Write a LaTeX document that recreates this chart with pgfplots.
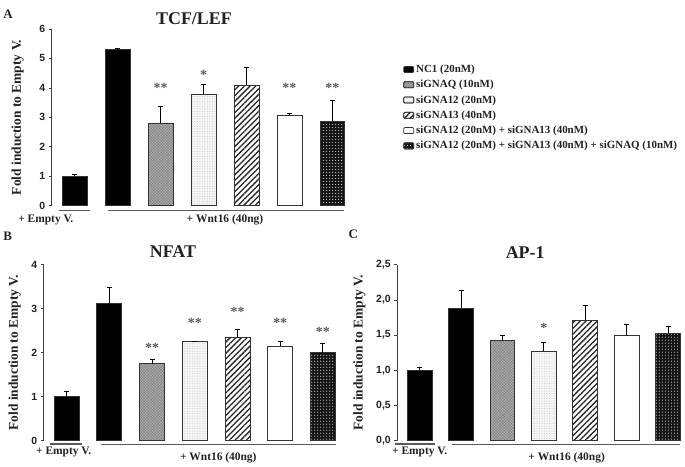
\documentclass[border=0pt]{standalone}
\usepackage{fontspec}
\setmainfont{Liberation Serif}
\setsansfont{Liberation Sans}
\usepackage{pgfplots}
\pgfplotsset{compat=1.18}
\usetikzlibrary{patterns,patterns.meta}
\definecolor{txt}{HTML}{222222}
\tikzset{
  grp/.style={line width=1.2bp, gray!70!black},
  glab/.style={font=\bfseries\fontsize{11.5}{13}\selectfont, text=txt},
}
\pgfplotsset{
  common/.style={scale only axis, axis x line=none, axis y line*=left,
    axis line style={-, black!75, line width=0.8bp},
    ytick style={black!75, line width=0.8bp}, tick align=outside, major tick length=3bp,
    ymin=0, clip=false, xtick=\empty,
    tick label style={font=\sffamily\bfseries\fontsize{10.5}{12}\selectfont, text=txt},
    /pgf/number format/assume math mode=true,
    ylabel={Fold induction to Empty V.},
    ylabel style={font=\bfseries\fontsize{13.5}{15}\selectfont, text=txt, anchor=center}},
  barleg/.style={legend image code/.code={\draw[##1, rounded corners=1bp] (0bp,-3bp) rectangle (10bp,3bp);}},
  bb/.style={ybar, bar width=#1, bar shift=0pt, draw=black!80, line width=0.8bp, barleg,
    error bars/y dir=plus, error bars/y explicit,
    error bars/error bar style={line width=1bp, black},
    error bars/error mark options={rotate=90, mark size=2.5bp, line width=1bp, black}},
  f0/.style={fill=black},
  fQ/.style={fill=gray!62, postaction={pattern={Hatch[distance=2bp, line width=0.4bp, angle=45]}, pattern color=black!50}},
  f12/.style={fill=gray!8, postaction={pattern={Dots[distance=2.5bp, radius=0.45bp]}, pattern color=gray!50}},
  f13/.style={fill=white, postaction={pattern={Lines[angle=45, distance=4bp, line width=1.3bp]}, pattern color=black!85}},
  fC/.style={fill=white},
  fT/.style={fill=black!92, postaction={pattern={Dots[distance=3bp, radius=0.6bp]}, pattern color=gray!45}},
  stars/.style={draw=none, mark=none, forget plot, nodes near coords, point meta=explicit symbolic,
    nodes near coords style={font=\bfseries\fontsize{14}{15}\selectfont, text=gray!70!black, anchor=center}},
}
\begin{document}
\begin{tikzpicture}[x=1bp, y=1bp]
\path (0,0) rectangle (685,462);
% Panel letters and titles
\node[font=\bfseries\fontsize{13}{15}\selectfont, text=txt] at (7.5,448) {A};
\node[font=\bfseries\fontsize{13}{15}\selectfont, text=txt] at (7,225) {B};
\node[font=\bfseries\fontsize{13}{15}\selectfont, text=txt] at (353,227) {C};
\node[font=\bfseries\fontsize{18}{20}\selectfont, text=txt] at (193.5,443) {TCF/LEF};
\node[font=\bfseries\fontsize{18}{20}\selectfont, text=txt] at (172.5,210.5) {NFAT};
\node[font=\bfseries\fontsize{18}{20}\selectfont, text=txt] at (525,209) {AP-1};

% Panel A
\begin{axis}[common, at={(51bp,256bp)}, anchor=south west, width=300bp, height=177bp,
  xmin=-0.535, xmax=6.44, ymax=6, ytick={0,1,...,6},
  ylabel style={at={(axis description cs:-0.113,0.5)}},
  legend style={at={(axis description cs:1.163,0.82)}, anchor=north west, draw=none, fill=none,
    font=\bfseries\fontsize{11}{12}\selectfont, text=txt, row sep=2.2bp, cells={anchor=west}},
  legend cell align=left]
\addplot[bb=0.58, f0, forget plot] coordinates {(0,1.00) +- (0,0.05)};
\addplot[bb=0.58, f0] coordinates {(1,5.31) +- (0,0.02)};
\addplot[bb=0.58, fQ] coordinates {(2,2.80) +- (0,0.58)};
\addplot[bb=0.58, f12] coordinates {(3,3.79) +- (0,0.31)};
\addplot[bb=0.58, f13] coordinates {(4,4.09) +- (0,0.60)};
\addplot[bb=0.58, fC] coordinates {(5,3.07) +- (0,0.06)};
\addplot[bb=0.58, fT] coordinates {(6,2.87) +- (0,0.69)};
\addplot[stars] coordinates {(2,4.0)[**] (3,4.45)[*] (5,4.0)[**] (6,4.0)[**]};
\legend{NC1 (20nM), siGNAQ (10nM), siGNA12 (20nM), siGNA13 (40nM), siGNA12 (20nM) + siGNA13 (40nM), siGNA12 (20nM) + siGNA13 (40nM) + siGNAQ (10nM)}
\draw[grp] ([yshift=-5bp]axis cs:-0.37,0) -- ([yshift=-5bp]axis cs:0.37,0);
\draw[grp] ([yshift=-5bp]axis cs:0.77,0) -- ([yshift=-5bp]axis cs:6.28,0);
\node[glab] at ([yshift=-14bp]axis cs:-0.67,0) {+ Empty V.};
\node[glab] at ([yshift=-14bp]axis cs:3.5,0) {+ Wnt16 (40ng)};
\end{axis}

% Panel B
\begin{axis}[common, at={(43bp,21bp)}, anchor=south west, width=298bp, height=176bp,
  xmin=-0.54, xmax=6.43, ymax=4, ytick={0,1,...,4},
  ylabel style={at={(axis description cs:-0.097,0.5)}}]
\addplot[bb=0.585, f0] coordinates {(0,1.00) +- (0,0.11)};
\addplot[bb=0.585, f0] coordinates {(1,3.11) +- (0,0.38)};
\addplot[bb=0.585, fQ] coordinates {(2,1.75) +- (0,0.10)};
\addplot[bb=0.585, f12] coordinates {(3,2.25) +- (0,0.01)};
\addplot[bb=0.585, f13] coordinates {(4,2.34) +- (0,0.19)};
\addplot[bb=0.585, fC] coordinates {(5,2.15) +- (0,0.11)};
\addplot[bb=0.585, fT] coordinates {(6,2.00) +- (0,0.21)};
\addplot[stars] coordinates {(2,2.1)[**] (3,2.68)[**] (4,2.92)[**] (5,2.68)[**] (6,2.47)[**]};
\draw[grp] ([yshift=-3.5bp]axis cs:-0.4,0) -- ([yshift=-3.5bp]axis cs:0.37,0);
\draw[grp] ([yshift=-4bp]axis cs:0.8,0) -- ([yshift=-4bp]axis cs:6.3,0);
\node[glab] at ([yshift=-11bp]axis cs:-0.07,0) {+ Empty V.};
\node[glab] at ([yshift=-17bp]axis cs:3.55,0) {+ Wnt16 (40ng)};
\end{axis}

% Panel C
\begin{axis}[common, at={(397bp,21bp)}, anchor=south west, width=288bp, height=176bp,
  xmin=-0.54, xmax=6.41, ymax=2.5, ytick={0,0.5,...,2.5},
  yticklabel style={/pgf/number format/.cd, fixed, fixed zerofill, precision=1, use comma},
  ylabel style={at={(axis description cs:-0.132,0.5)}}]
\addplot[bb=0.6, f0] coordinates {(0,1.00) +- (0,0.04)};
\addplot[bb=0.6, f0] coordinates {(1,1.88) +- (0,0.25)};
\addplot[bb=0.6, fQ] coordinates {(2,1.42) +- (0,0.08)};
\addplot[bb=0.6, f12] coordinates {(3,1.27) +- (0,0.12)};
\addplot[bb=0.6, f13] coordinates {(4,1.71) +- (0,0.21)};
\addplot[bb=0.6, fC] coordinates {(5,1.49) +- (0,0.16)};
\addplot[bb=0.6, fT] coordinates {(6,1.53) +- (0,0.09)};
\addplot[stars] coordinates {(3,1.6)[*]};
\draw[grp] ([yshift=-3.5bp]axis cs:-0.6,0) -- ([yshift=-3.5bp]axis cs:0.37,0);
\draw[grp] ([yshift=-4bp]axis cs:0.79,0) -- ([yshift=-4bp]axis cs:6.3,0);
\node[glab] at ([yshift=-11bp]axis cs:0,0) {+ Empty V.};
\node[glab] at ([yshift=-17bp]axis cs:3.55,0) {+ Wnt16 (40ng)};
\end{axis}
\end{tikzpicture}
\end{document}
